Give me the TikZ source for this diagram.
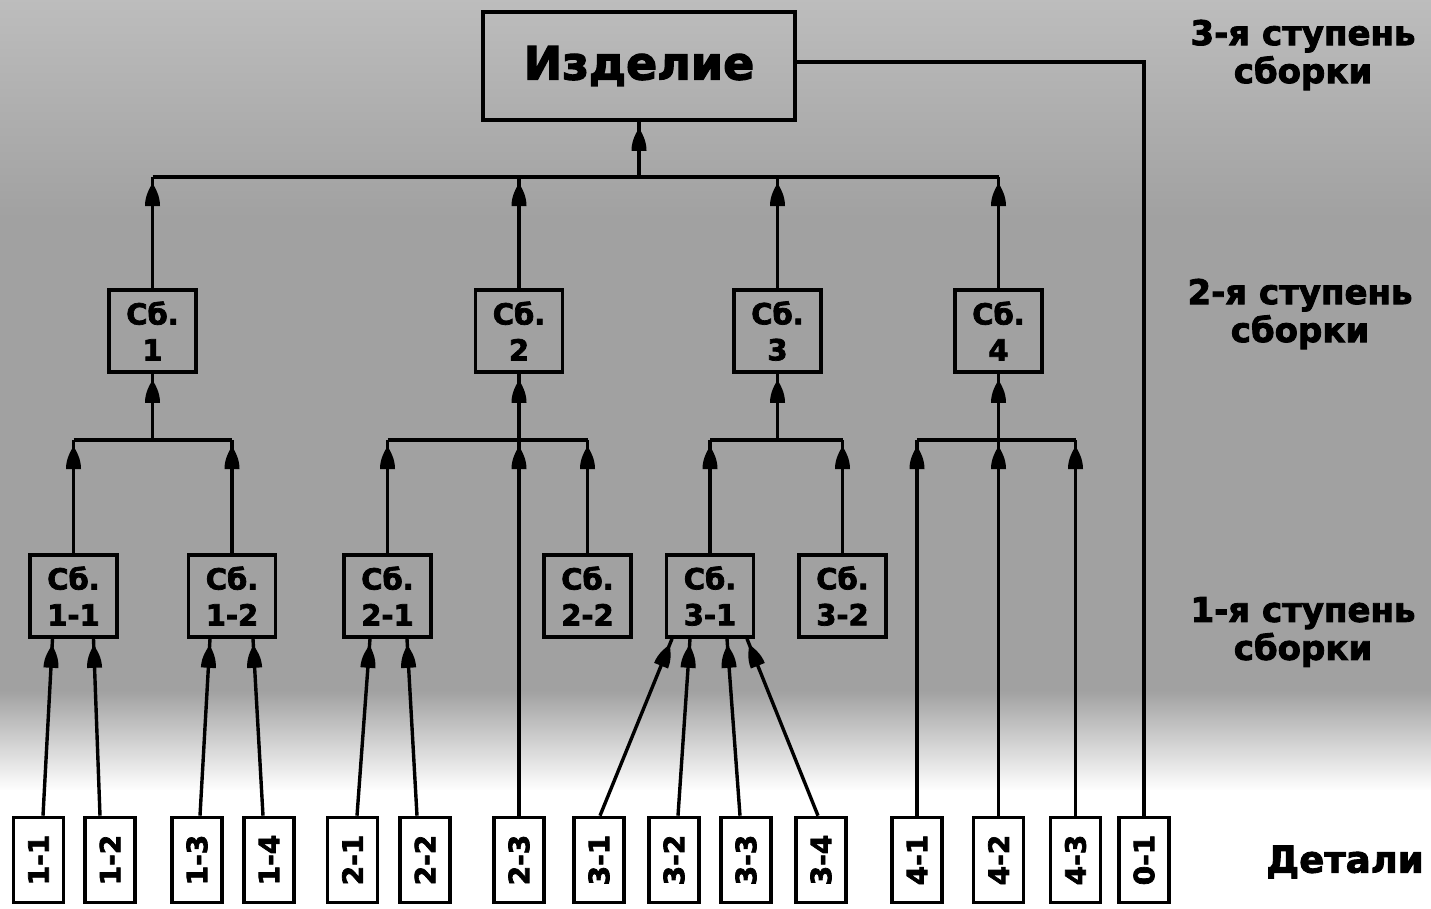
\documentclass[tikz,border=0pt]{standalone}
\usepackage{fontspec}
\usepackage{graphicx}
\newfontfamily\dv{DejaVu Sans}[BoldFeatures={FakeBold=2.5}]
\usetikzlibrary{arrows.meta,decorations.markings,calc}
\colorlet{bgA}{black!26}
\colorlet{bgB}{black!37}
\begin{document}
\begin{tikzpicture}[x=1pt,y=-1pt,
  bx/.style={draw=black, line width=3.6pt, inner sep=0pt, align=center},
  asm/.style={bx, minimum width=87pt, minimum height=82pt, font=\dv\bfseries\fontsize{29}{36}\selectfont},
  det/.style={bx, fill=white, minimum width=50pt, minimum height=85pt, font=\dv\bfseries\fontsize{28}{30}\selectfont},
  wire/.style={line width=3.4pt},
  con/.style={wire, postaction={decorate}, decoration={markings, mark=at position -6pt with {\fill[black] (0pt,0pt) .. controls (-5pt,2.5pt) and (-12pt,7.5pt) .. (-23pt,7.5pt) -- (-23pt,-7.5pt) .. controls (-12pt,-7.5pt) and (-5pt,-2.5pt) .. (0pt,0pt) -- cycle;}}},
  lab/.style={align=center, font=\dv\bfseries\fontsize{34}{38}\selectfont}]
\useasboundingbox (0,0) rectangle (1431,908);
% background
\shade[top color=bgA, bottom color=bgB] (0,0) rectangle (1431,221);
\fill[bgB] (0,220) rectangle (1431,691);
\shade[top color=bgB, bottom color=white] (0,690) rectangle (1431,791);
\fill[white] (0,790) rectangle (1431,908);
% top
\node[bx, minimum width=312pt, minimum height=108pt, font=\dv\bfseries\fontsize{46}{50}\selectfont] (izd) at (639,66) {Изделие};
% level 2
\node[asm] (s1) at (152.5,331) {Сб.\\1};
\node[asm] (s2) at (519,331) {Сб.\\2};
\node[asm] (s3) at (777.5,331) {Сб.\\3};
\node[asm] (s4) at (998.5,331) {Сб.\\4};
% level 1
\node[asm] (a11) at (73.5,596) {Сб.\\1-1};
\node[asm] (a12) at (232,596) {Сб.\\1-2};
\node[asm] (a21) at (387.5,596) {Сб.\\2-1};
\node[asm] (a22) at (587.5,596) {Сб.\\2-2};
\node[asm] (a31) at (710,596) {Сб.\\3-1};
\node[asm] (a32) at (842.5,596) {Сб.\\3-2};
% details
\node[det] (d11) at (38.5,860) {\rotatebox{90}{1-1}};
\node[det] (d12) at (110,860) {\rotatebox{90}{1-2}};
\node[det] (d13) at (197,860) {\rotatebox{90}{1-3}};
\node[det] (d14) at (269,860) {\rotatebox{90}{1-4}};
\node[det] (d21) at (352.5,860) {\rotatebox{90}{2-1}};
\node[det] (d22) at (425,860) {\rotatebox{90}{2-2}};
\node[det] (d23) at (519,860) {\rotatebox{90}{2-3}};
\node[det] (d31) at (599,860) {\rotatebox{90}{3-1}};
\node[det] (d32) at (674,860) {\rotatebox{90}{3-2}};
\node[det] (d33) at (746,860) {\rotatebox{90}{3-3}};
\node[det] (d34) at (821,860) {\rotatebox{90}{3-4}};
\node[det] (d41) at (917,860) {\rotatebox{90}{4-1}};
\node[det] (d42) at (998.5,860) {\rotatebox{90}{4-2}};
\node[det] (d43) at (1075.5,860) {\rotatebox{90}{4-3}};
\node[det] (d01) at (1144,860) {\rotatebox{90}{0-1}};
% labels
\node[lab] (l3) at (1303,55) {3-я ступень\\сборки};
\node[lab] (l2) at (1300,314) {2-я ступень\\сборки};
\node[lab] (l1) at (1303,632) {1-я ступень\\сборки};
\node[lab, font=\dv\bfseries\fontsize{37}{40}\selectfont] (ld) at (1345,862) {Детали};
% buses
\coordinate (b0) at (639,177);
\coordinate (b1) at (152.5,440);
\coordinate (b2) at (519,440);
\coordinate (b3) at (777.5,440);
\coordinate (b4) at (998.5,440);
% level 2 -> product
\draw[wire] (s1.north |- b0) -- (s4.north |- b0);
\draw[con] (b0) -- (izd.south);
\foreach \n in {s1,s2,s3,s4} \draw[con] (\n.north) -- (\n.north |- b0);
% level 1 -> level 2
\draw[wire] (a11.north |- b1) -- (a12.north |- b1);
\draw[con] (a11.north) -- (a11.north |- b1);
\draw[con] (a12.north) -- (a12.north |- b1);
\draw[con] (b1) -- (s1.south);
\draw[wire] (a21.north |- b2) -- (a22.north |- b2);
\draw[con] (a21.north) -- (a21.north |- b2);
\draw[con] (a22.north) -- (a22.north |- b2);
\draw[con] (d23.north) -- (b2);
\draw[con] (b2) -- (s2.south);
\draw[wire] (a31.north |- b3) -- (a32.north |- b3);
\draw[con] (a31.north) -- (a31.north |- b3);
\draw[con] (a32.north) -- (a32.north |- b3);
\draw[con] (b3) -- (s3.south);
\draw[wire] (d41.north |- b4) -- (d43.north |- b4);
\draw[con] (d41.north) -- (d41.north |- b4);
\draw[con] (d42.north) -- (b4);
\draw[con] (d43.north) -- (d43.north |- b4);
\draw[con] (b4) -- (s4.south);
% details -> level 1
\draw[con] ($(d11.north)+(4.5,0)$) -- ($(a11.south)+(-21,0)$);
\draw[con] ($(d12.north)+(-10,0)$) -- ($(a11.south)+(20,0)$);
\draw[con] ($(d13.north)+(3,0)$) -- ($(a12.south)+(-22,0)$);
\draw[con] ($(d14.north)+(-6,0)$) -- ($(a12.south)+(21,0)$);
\draw[con] ($(d21.north)+(4.5,0)$) -- ($(a21.south)+(-17.5,0)$);
\draw[con] ($(d22.north)+(-8,0)$) -- ($(a21.south)+(19.5,0)$);
\draw[con] ($(d31.north)+(1,0)$) -- ($(a31.south)+(-38,0)$);
\draw[con] ($(d32.north)+(4,0)$) -- ($(a31.south)+(-20,0)$);
\draw[con] ($(d33.north)+(-6,0)$) -- ($(a31.south)+(17,0)$);
\draw[con] ($(d34.north)+(-3,0)$) -- ($(a31.south)+(37,0)$);
% detail 0-1 directly to product
\draw[wire] ($(izd.east)+(0,-4)$) -| (d01.north);
\end{tikzpicture}
\end{document}
